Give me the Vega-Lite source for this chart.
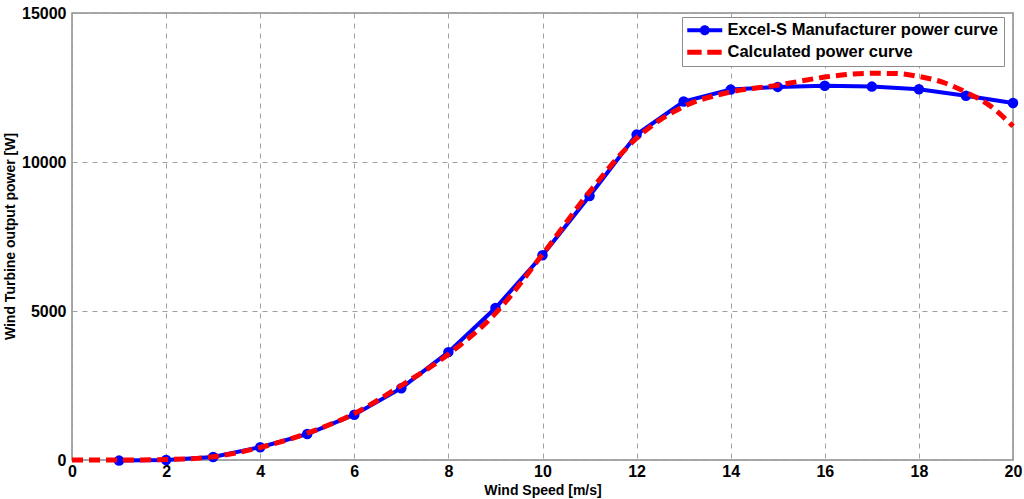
{
  "$schema": "https://vega.github.io/schema/vega-lite/v6.json",
  "width": 941,
  "height": 447,
  "autosize": {"type": "none"},
  "padding": {"left": 72, "top": 13, "right": 11, "bottom": 39},
  "background": "white",
  "config": {
    "view": {"stroke": "#8c8c8c", "strokeWidth": 1.5},
    "font": "Liberation Sans",
    "axis": {
      "labelFont": "Liberation Sans", "labelFontWeight": "bold", "labelFontSize": 16, "labelColor": "black",
      "titleFont": "Liberation Sans", "titleFontWeight": "bold", "titleFontSize": 14, "titleColor": "black",
      "gridColor": "#a0a0a0", "gridDash": [5, 5], "gridWidth": 1, "gridOpacity": 1,
      "domain": false, "ticks": false
    }
  },
  "data": {"values": [
    {"ws": 1, "p": -20, "series": "Excel-S Manufacturer power curve"},
    {"ws": 2, "p": 0, "series": "Excel-S Manufacturer power curve"},
    {"ws": 3, "p": 100, "series": "Excel-S Manufacturer power curve"},
    {"ws": 4, "p": 430, "series": "Excel-S Manufacturer power curve"},
    {"ws": 5, "p": 870, "series": "Excel-S Manufacturer power curve"},
    {"ws": 6, "p": 1520, "series": "Excel-S Manufacturer power curve"},
    {"ws": 7, "p": 2410, "series": "Excel-S Manufacturer power curve"},
    {"ws": 8, "p": 3620, "series": "Excel-S Manufacturer power curve"},
    {"ws": 9, "p": 5100, "series": "Excel-S Manufacturer power curve"},
    {"ws": 10, "p": 6870, "series": "Excel-S Manufacturer power curve"},
    {"ws": 11, "p": 8860, "series": "Excel-S Manufacturer power curve"},
    {"ws": 12, "p": 10920, "series": "Excel-S Manufacturer power curve"},
    {"ws": 13, "p": 12030, "series": "Excel-S Manufacturer power curve"},
    {"ws": 14, "p": 12430, "series": "Excel-S Manufacturer power curve"},
    {"ws": 15, "p": 12520, "series": "Excel-S Manufacturer power curve"},
    {"ws": 16, "p": 12560, "series": "Excel-S Manufacturer power curve"},
    {"ws": 17, "p": 12530, "series": "Excel-S Manufacturer power curve"},
    {"ws": 18, "p": 12440, "series": "Excel-S Manufacturer power curve"},
    {"ws": 19, "p": 12220, "series": "Excel-S Manufacturer power curve"},
    {"ws": 20, "p": 11980, "series": "Excel-S Manufacturer power curve"},
    {"ws": 0, "p": 0, "series": "Calculated power curve"},
    {"ws": 1, "p": 0, "series": "Calculated power curve"},
    {"ws": 2, "p": 15, "series": "Calculated power curve"},
    {"ws": 3, "p": 110, "series": "Calculated power curve"},
    {"ws": 4, "p": 420, "series": "Calculated power curve"},
    {"ws": 5, "p": 900, "series": "Calculated power curve"},
    {"ws": 6, "p": 1560, "series": "Calculated power curve"},
    {"ws": 7, "p": 2500, "series": "Calculated power curve"},
    {"ws": 8, "p": 3550, "series": "Calculated power curve"},
    {"ws": 9, "p": 4920, "series": "Calculated power curve"},
    {"ws": 10, "p": 6900, "series": "Calculated power curve"},
    {"ws": 11, "p": 9000, "series": "Calculated power curve"},
    {"ws": 12, "p": 10800, "series": "Calculated power curve"},
    {"ws": 13, "p": 11860, "series": "Calculated power curve"},
    {"ws": 14, "p": 12350, "series": "Calculated power curve"},
    {"ws": 15, "p": 12580, "series": "Calculated power curve"},
    {"ws": 16, "p": 12850, "series": "Calculated power curve"},
    {"ws": 16.5, "p": 12940, "series": "Calculated power curve"},
    {"ws": 17, "p": 12975, "series": "Calculated power curve"},
    {"ws": 17.5, "p": 12970, "series": "Calculated power curve"},
    {"ws": 18, "p": 12870, "series": "Calculated power curve"},
    {"ws": 18.5, "p": 12680, "series": "Calculated power curve"},
    {"ws": 19, "p": 12340, "series": "Calculated power curve"},
    {"ws": 19.5, "p": 11900, "series": "Calculated power curve"},
    {"ws": 20, "p": 11200, "series": "Calculated power curve"}
  ]},
  "encoding": {
    "x": {"field": "ws", "type": "quantitative",
      "scale": {"domain": [0, 20], "nice": false, "zero": false},
      "axis": {"values": [0, 2, 4, 6, 8, 10, 12, 14, 16, 18, 20], "title": "Wind Speed [m/s]", "labelPadding": 3, "labelFlush": false, "titleY": 34, "titleBaseline": "alphabetic"}},
    "y": {"field": "p", "type": "quantitative",
      "scale": {"domain": [0, 15000], "nice": false},
      "axis": {"values": [0, 5000, 10000, 15000], "title": "Wind Turbine output power [W]", "labelPadding": 6, "labelFlush": false, "format": "d", "titleX": -69, "titleY": 223, "titleBaseline": "top", "titleAnchor": "middle"}},
    "color": {"field": "series", "type": "nominal",
      "scale": {"domain": ["Excel-S Manufacturer power curve", "Calculated power curve"], "range": ["#0000ff", "#ff0000"]},
      "legend": {
        "title": null, "orient": "none", "legendX": 610, "legendY": 4,
        "labelFont": "Liberation Sans", "labelFontWeight": "bold", "labelFontSize": 16.5, "labelColor": "black",
        "symbolSize": 256, "symbolStrokeWidth": 0, "rowPadding": 5, "labelOffset": 24,
        "strokeColor": "#8c8c8c", "fillColor": "white", "padding": 5, "labelLimit": 400,
        "encode": {"symbols": {"update": {
          "shape": {"signal": "datum.value === 'Calculated power curve' ? 'M -1 -0.31 L 0.8 -0.31 L 0.8 0.31 L -1 0.31 Z M 1.5 -0.31 L 3.3 -0.31 L 3.3 0.31 L 1.5 0.31 Z' : 'M -1 -0.25 L 3.375 -0.25 L 3.375 0.25 L -1 0.25 Z M 1.815 0 A 0.625 0.625 0 1 1 0.565 0 A 0.625 0.625 0 1 1 1.815 0 Z'"},
          "fill": {"signal": "datum.value === 'Calculated power curve' ? '#ff0000' : '#0000ff'"},
          "fillOpacity": {"value": 1},
          "strokeWidth": {"value": 0}
        }}}
      }
    }
  },
  "layer": [
    {"transform": [{"filter": "datum.series === 'Excel-S Manufacturer power curve'"}],
     "mark": {"type": "line", "strokeWidth": 4, "clip": false},
     "encoding": {}},
    {"transform": [{"filter": "datum.series === 'Excel-S Manufacturer power curve'"}],
     "mark": {"type": "point", "filled": true, "size": 110, "opacity": 1, "clip": false},
     "encoding": {}},
    {"transform": [{"filter": "datum.series === 'Calculated power curve'"}],
     "mark": {"type": "line", "strokeWidth": 5, "strokeDash": [11, 6], "interpolate": "monotone", "clip": false},
     "encoding": {}}
  ]
}
